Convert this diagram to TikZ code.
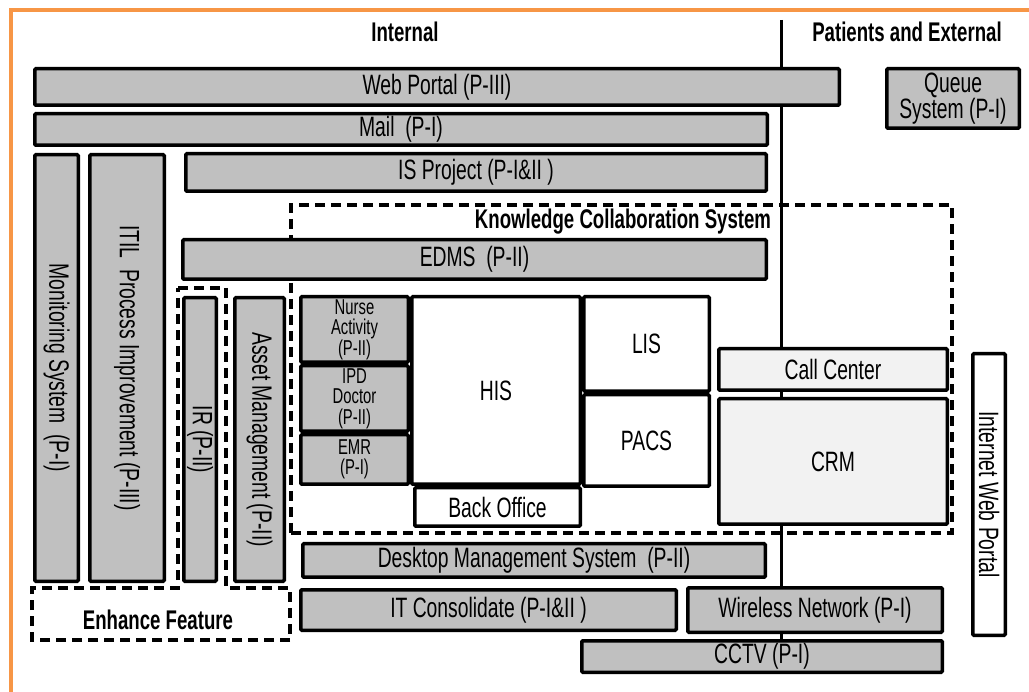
\documentclass[tikz,border=0pt]{standalone}
\usepackage{fontspec}
\setmainfont{Liberation Sans}[FakeStretch=0.69]
\definecolor{boxgray}{HTML}{C0C0C0}
\definecolor{boxlight}{HTML}{F2F2F2}
\definecolor{frameorange}{RGB}{247,150,70}
\newcommand\fsN{\fontsize{28}{24}\selectfont}
\newcommand\fsS{\fontsize{21.5}{20.5}\selectfont}
\newcommand\fsH{\fontsize{27}{27}\selectfont\bfseries}
% box by outer pixel corners: name, x1, y1, x2, y2, style, text
\newcommand\bx[7]{\node[#6, minimum width={#4-#2-3.5}, minimum height={#5-#3-3.5}] (#1) at ({(#2+#4)/2},{(#3+#5)/2}) {#7};}
\newcommand\vbx[7]{\node[#6, rotate=-90, minimum width={#5-#3-3.5}, minimum height={#4-#2-3.5}] (#1) at ({(#2+#4)/2},{(#3+#5)/2}) {#7};}
\tikzset{
  basebox/.style={draw=black, line width=3.5pt, rounded corners=1.2pt, inner sep=0pt, align=center, font=\fsN},
  gbox/.style={basebox, fill=boxgray},
  wbox/.style={basebox, fill=white},
  lbox/.style={basebox, fill=boxlight},
  sbox/.style={gbox, font=\fsS},
  dashline/.style={draw=black, line width=3.5pt, dash pattern=on 10pt off 6pt},
  header/.style={inner sep=0pt, font=\fsH},
}
\begin{document}
\begin{tikzpicture}[x=1pt, y=-1pt]
\useasboundingbox (0,0) rectangle (1029,692);
\fill[white] (0,0) rectangle (1029,692);
% orange frame (top and left visible)
\draw[frameorange, line width=4pt] (11,692) -- (11,10) -- (1029,10);
% headers
\node[header] (hint) at (405,32) {Internal};
\node[header] (hext) at (907,32) {Patients and External};
% divider
\coordinate (dtop) at (781,20);
\coordinate (dbot) at (781,645);
\draw[line width=3pt] (dtop) -- (dbot);
% dashed groups
\node[dashline, minimum width=661, minimum height=328, inner sep=0pt] (kcs) at ({(291+952)/2},{(205+533)/2}) {};
\node[header] (kcslabel) at (623,222) {Knowledge Collaboration System};
\draw[dashline] (178,288) -- (226,288) -- (226,588) -- (290,588) -- (290,640) -- (32,640) -- (32,588) -- (178,588) -- cycle;
\node[header] (enh) at (158,620) {Enhance Feature};
% horizontal bars
\bx{web}{33}{67}{841}{107}{gbox}{Web Portal (P-III)}
\bx{mail}{33}{112}{769}{147}{gbox}{Mail\ \ (P-I)}
\bx{isp}{184}{152}{768}{193}{gbox}{IS Project (P-I\&II )}
\bx{edms}{181}{238}{768}{281}{gbox}{EDMS\ \ (P-II)}
% vertical bars
\vbx{mon}{33}{153}{80}{583}{gbox}{Monitoring System\ \ (P-I)}
\vbx{itil}{88}{153}{166}{583}{gbox}{ITIL\ \ Process Improvement (P-III)}
\vbx{ir}{182}{296}{218}{583}{gbox}{IR (P-II)}
\vbx{asset}{233}{296}{286}{583}{gbox}{Asset Management (P-II)}
% clinical modules
\bx{nurse}{299}{295}{410}{364}{sbox}{Nurse\\Activity\\(P-II)}
\bx{ipd}{299}{364}{410}{433}{sbox}{IPD\\Doctor\\(P-II)}
\bx{emr}{299}{433}{410}{486}{sbox}{EMR\\(P-I)}
\bx{his}{410}{295}{582}{486}{wbox}{HIS}
\bx{lis}{582}{295}{711}{393}{wbox}{LIS}
\bx{pacs}{582}{393}{711}{488}{wbox}{PACS}
\bx{back}{413}{486}{582}{528}{wbox}{Back Office}
\bx{call}{717}{347}{949}{392}{lbox}{Call Center}
\bx{crm}{717}{397}{949}{526}{lbox}{CRM}
% external
\bx{queue}{885}{67}{1021}{130}{gbox}{Queue\\System (P-I)}
\vbx{iwp}{971}{352}{1007}{637}{wbox}{Internet Web Portal}
% infrastructure
\bx{desk}{301}{542}{767}{579}{gbox}{Desktop Management System\ \ (P-II)}
\bx{itc}{299}{588}{678}{632}{gbox}{IT Consolidate (P-I\&II )}
\bx{wifi}{686}{586}{944}{634}{gbox}{Wireless Network (P-I)}
\bx{cctv}{580}{639}{944}{674}{gbox}{CCTV (P-I)}
\end{tikzpicture}
\end{document}
